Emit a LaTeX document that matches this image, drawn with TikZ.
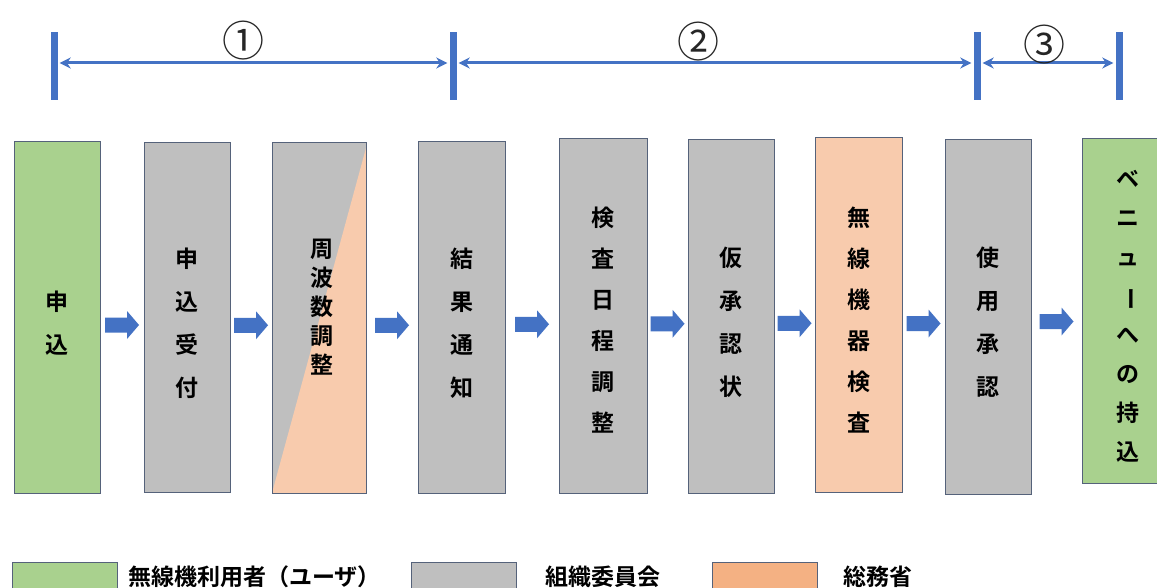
\documentclass[tikz,border=0pt]{standalone}
\usepackage{fontspec}
\newfontfamily\jp{Noto Sans CJK JP}[BoldFont={Noto Sans CJK JP Bold}]
\usetikzlibrary{arrows.meta,calc}
\definecolor{ugreen}{HTML}{A9D18E}
\definecolor{ugray}{HTML}{BFBFBF}
\definecolor{uorange}{HTML}{F8CBAD}
\definecolor{lorange}{HTML}{F4B183}
\definecolor{ublue}{HTML}{4472C4}
\definecolor{boxline}{RGB}{85,98,122}
\tikzset{
  stepbox/.style={draw=boxline, line width=0.8pt, inner sep=0pt},
  steptext/.style={inner sep=0pt, align=center, text=black,
    font=\jp\bfseries\fontsize{23}{43}\selectfont},
  legbox/.style={draw=boxline, line width=0.8pt, inner sep=0pt, minimum width=105pt, minimum height=34pt},
  legtext/.style={anchor=west, inner sep=0pt, text=black, font=\jp\bfseries\fontsize{23}{23}\selectfont},
  bar/.style={fill=ublue, inner sep=0pt, minimum width=7pt, minimum height=68pt},
  span/.style={ublue, line width=3pt, {Stealth[length=11pt,width=11pt]}-{Stealth[length=11pt,width=11pt]}, shorten <=2pt, shorten >=2pt},
  numlabel/.style={inner sep=0pt, text=black!85, font=\jp\fontsize{42}{42}\selectfont},
}
\newcommand{\flowarrow}[2]{%
  \coordinate (#1) at (#2);
  \fill[ublue] ($(#1)+(-17,-7.5)$) -- ($(#1)+(5,-7.5)$) -- ($(#1)+(5,-14)$) -- ($(#1)+(17,0)$)
    -- ($(#1)+(5,14)$) -- ($(#1)+(5,7.5)$) -- ($(#1)+(-17,7.5)$) -- cycle;}
\begin{document}
\begin{tikzpicture}[x=1pt,y=-1pt]
\useasboundingbox (0,0) rectangle (1157,588);
\clip (0,0) rectangle (1157,588);
\fill[white] (0,0) rectangle (1157,588);

% top bars and spans
\node[bar] (t1) at (54,66) {};
\node[bar] (t2) at (453,66) {};
\node[bar] (t3) at (977,66) {};
\node[bar] (t4) at (1119,66) {};
\draw[span] ([yshift=3pt]t1.east) -- ([yshift=3pt]t2.west);
\draw[span] ([yshift=3pt]t2.east) -- ([yshift=3pt]t3.west);
\draw[span] ([yshift=3pt]t3.east) -- ([yshift=3pt]t4.west);
\node[numlabel] (n1) at (243,41) {①};
\node[numlabel] (n2) at (698,42) {②};
\node[numlabel] (n3) at (1044,45) {③};

% step boxes
\node[stepbox, fill=ugreen, minimum width=86pt, minimum height=352pt] (b1) at (57,317) {};
\node[stepbox, fill=ugray, minimum width=86pt, minimum height=350pt] (b2) at (187,317) {};
\node[stepbox, fill=ugray, minimum width=94pt, minimum height=351pt,
  path picture={\fill[uorange] (path picture bounding box.south west) -- ([yshift=-6pt]path picture bounding box.north east) -- (path picture bounding box.south east) -- cycle;}] (b3) at (319,317.5) {};
\node[stepbox, fill=ugray, minimum width=87pt, minimum height=352pt] (b4) at (461.5,317) {};
\node[stepbox, fill=ugray, minimum width=88pt, minimum height=355pt] (b5) at (603,315.5) {};
\node[stepbox, fill=ugray, minimum width=86pt, minimum height=354pt] (b6) at (731,316) {};
\node[stepbox, fill=uorange, minimum width=87pt, minimum height=355pt] (b7) at (858.5,314.5) {};
\node[stepbox, fill=ugray, minimum width=86pt, minimum height=355pt] (b8) at (988,316.5) {};
\node[stepbox, fill=ugreen, minimum width=92pt, minimum height=345pt] (b9) at (1128,310.5) {};

% box texts
\node[steptext] (b1t) at ($(b1.center)+(0,6)$) {申\\込};
\node[steptext] (b2t) at ($(b2.center)+(0,6)$) {申\\込\\受\\付};
\node[steptext, font=\jp\bfseries\fontsize{23}{29}\selectfont] (b3t) at ($(b3.center)+(3,-10)$) {周\\波\\数\\調\\整};
\node[steptext] (b4t) at ($(b4.center)+(0,6)$) {結\\果\\通\\知};
\node[steptext, font=\jp\bfseries\fontsize{23}{41}\selectfont] (b5t) at ($(b5.center)+(0,5)$) {検\\査\\日\\程\\調\\整};
\node[steptext] (b6t) at ($(b6.center)+(0,6)$) {仮\\承\\認\\状};
\node[steptext, font=\jp\bfseries\fontsize{23}{41}\selectfont] (b7t) at ($(b7.center)+(0,6)$) {無\\線\\機\\器\\検\\査};
\node[steptext] (b8t) at ($(b8.center)+(0,6)$) {使\\用\\承\\認};
\node[steptext, font=\jp\bfseries\fontsize{23}{39}\selectfont] (b9t) at ($(b9.center)+(0,6)$) {ベ\\ニ\\ュ\\\rotatebox[origin=c]{-90}{ー}\\へ\\の\\持\\込};

% flow arrows between boxes
\flowarrow{a1}{$(b1.east)!0.5!(b2.west)+(0,8)$}
\flowarrow{a2}{$(b2.east)!0.5!(b3.west)+(0,8)$}
\flowarrow{a3}{$(b3.east)!0.5!(b4.west)+(0,8)$}
\flowarrow{a4}{$(b4.east)!0.5!(b5.west)+(0,8)$}
\flowarrow{a5}{$(b5.east)!0.5!(b6.west)+(0,8)$}
\flowarrow{a6}{$(b6.east)!0.5!(b7.west)+(0,8)$}
\flowarrow{a7}{$(b7.east)!0.5!(b8.west)+(0,8)$}
\flowarrow{a8}{$(b8.east)!0.5!(b9.west)+(0,8)$}

% legend
\node[legbox, fill=ugreen] (l1) at (64.5,579) {};
\node[legtext] (lt1) at (128,577) {無線機利用者（ユーザ）};
\node[legbox, fill=ugray] (l2) at (463.5,579) {};
\node[legtext] (lt2) at (545,577) {組織委員会};
\node[legbox, fill=lorange] (l3) at (764.5,579) {};
\node[legtext] (lt3) at (843,577) {総務省};
\end{tikzpicture}
\end{document}
